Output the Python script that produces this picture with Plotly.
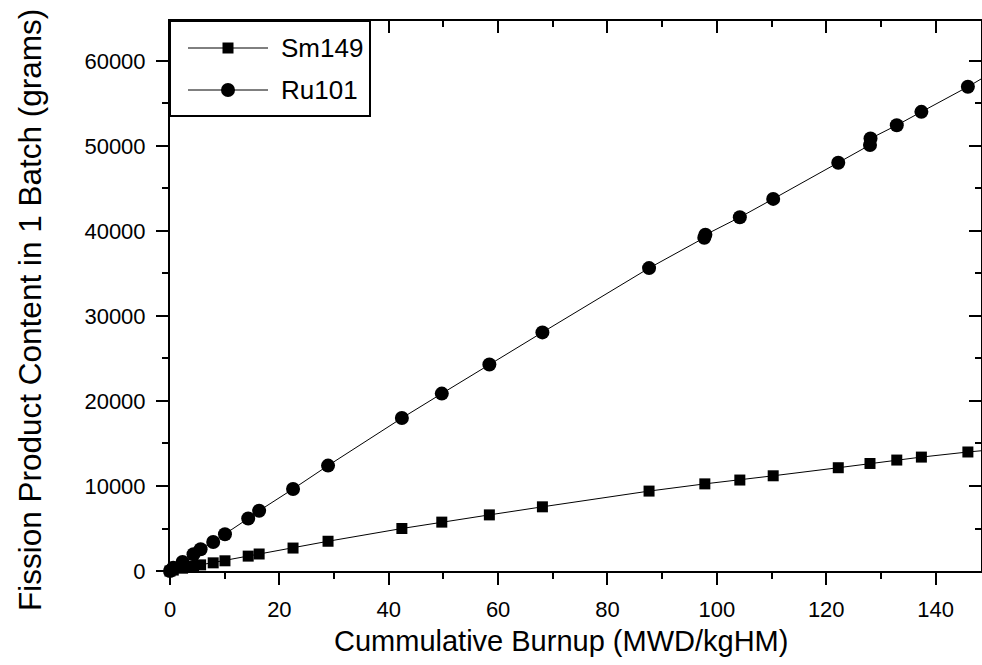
import plotly.graph_objects as go

# Cumulative burnup steps (MWD/kgHM) and fission product masses in one batch (g)
burnup_ru = [0, 0.6, 2.3, 4.3, 5.6, 7.9, 10.05, 14.3, 16.3, 22.5, 28.9, 42.4, 49.7,
             58.4, 68.1, 87.6, 97.7, 97.9, 104.2, 110.3, 122.2, 128.0, 128.1, 132.9,
             137.4, 145.9, 151.0]
ru101 = [0, 390, 1060, 1970, 2560, 3420, 4330, 6180, 7090, 9650, 12400, 17990, 20870,
         24290, 28070, 35630, 39200, 39550, 41610, 43770, 48030, 50120, 50880, 52440,
         54010, 56960, 58900]

burnup_sm = [0, 0.6, 2.3, 4.3, 5.6, 7.9, 10.05, 14.3, 16.3, 22.5, 28.9, 42.4, 49.7,
             58.4, 68.1, 87.6, 97.8, 104.2, 110.3, 122.2, 128.0, 132.9, 137.4, 145.9,
             151.0]
sm149 = [0, 110, 330, 570, 720, 960, 1200, 1750, 2000, 2700, 3500, 5000, 5750,
         6600, 7550, 9400, 10250, 10700, 11200, 12150, 12650, 13050, 13400, 14000,
         14300]

series_names = ["Sm149", "Ru101"]
x_ticks = [0, 20, 40, 60, 80, 100, 120, 140]
y_ticks = [0, 10000, 20000, 30000, 40000, 50000, 60000]
x_range = [0, 148.3]
y_range = [0, 64700]

FONT = "Liberation Sans, Arial, sans-serif"
W, H = 982, 665
L, R, T, B = 170, 1, 21, 94
PW, PH = W - L - R, H - T - B


def px_x(p):
    """Horizontal pixel position -> paper coordinate."""
    return (p - L) / PW


def px_y(p):
    """Vertical pixel position (from top) -> paper coordinate."""
    return (H - B - p) / PH


fig = go.Figure()
fig.add_trace(go.Scatter(
    x=burnup_sm, y=sm149, name=series_names[0], mode="lines+markers",
    line=dict(color="black", width=1),
    marker=dict(symbol="square", size=11, color="black"),
    cliponaxis=False, showlegend=False,
))
fig.add_trace(go.Scatter(
    x=burnup_ru, y=ru101, name=series_names[1], mode="lines+markers",
    line=dict(color="black", width=1),
    marker=dict(symbol="circle", size=14, color="black"),
    cliponaxis=False, showlegend=False,
))
# empty trace so the mirrored top/right axes get drawn
fig.add_trace(go.Scatter(x=[None], y=[None], xaxis="x2", yaxis="y2",
                         showlegend=False, hoverinfo="skip"))

tick_font = dict(family=FONT, size=22, color="black")
minor_out = dict(ticks="outside", ticklen=6, tickwidth=2, tickcolor="black", showgrid=False)
minor_in = dict(ticks="inside", ticklen=6, tickwidth=2, tickcolor="black", showgrid=False)

# Legend box drawn in the upper-left corner of the frame
shapes = [dict(type="rect", xref="paper", yref="paper",
               x0=px_x(170), x1=px_x(370), y0=px_y(116), y1=px_y(21),
               line=dict(color="black", width=2), fillcolor="white", layer="above")]
annotations = []
rows_y = [48, 90]
for name, row, sym in zip(series_names, rows_y, ["rect", "circle"]):
    shapes.append(dict(type="line", xref="paper", yref="paper",
                       x0=px_x(188), x1=px_x(268), y0=px_y(row), y1=px_y(row),
                       line=dict(color="black", width=1), layer="above"))
    half = 5.5 if sym == "rect" else 7
    shapes.append(dict(type=sym, xref="paper", yref="paper",
                       xsizemode="pixel", ysizemode="pixel",
                       xanchor=px_x(228), yanchor=px_y(row),
                       x0=-half, x1=half, y0=-half, y1=half,
                       line=dict(color="black", width=0), fillcolor="black",
                       layer="above"))
    annotations.append(dict(text=name, xref="paper", yref="paper",
                            x=px_x(279), y=px_y(row), xanchor="left", yanchor="middle",
                            showarrow=False,
                            font=dict(family=FONT, size=26, color="black")))

# Axis titles
annotations.append(dict(text="Cummulative Burnup (MWD/kgHM)", xref="paper", yref="paper",
                        x=px_x(561), y=px_y(641), xanchor="center", yanchor="middle",
                        showarrow=False, font=dict(family=FONT, size=29, color="black")))
annotations.append(dict(text="Fission Product Content in 1 Batch (grams)",
                        xref="paper", yref="paper", textangle=-90,
                        x=px_x(30), y=px_y(310), xanchor="center", yanchor="middle",
                        showarrow=False, font=dict(family=FONT, size=31.5, color="black")))

fig.update_layout(
    width=W, height=H,
    margin=dict(l=L, r=R, t=T, b=B),
    paper_bgcolor="white", plot_bgcolor="white",
    showlegend=False,
    shapes=shapes, annotations=annotations,
    xaxis=dict(
        range=x_range, tickmode="array", tickvals=x_ticks,
        ticks="outside", ticklen=12, tickwidth=2, tickcolor="black",
        minor=dict(dtick=10, **minor_out),
        showline=True, linewidth=2, linecolor="black",
        showgrid=False, zeroline=False, tickfont=tick_font, ticklabelstandoff=6,
    ),
    yaxis=dict(
        range=y_range, tickmode="array", tickvals=y_ticks, tickformat="d",
        ticks="outside", ticklen=12, tickwidth=2, tickcolor="black",
        minor=dict(dtick=5000, **minor_out),
        showline=True, linewidth=2, linecolor="black",
        showgrid=False, zeroline=False, tickfont=tick_font, ticklabelstandoff=6,
    ),
    # Frame on the top and right with inward-pointing ticks
    xaxis2=dict(
        overlaying="x", side="top", range=x_range, tickmode="array", tickvals=x_ticks,
        ticks="inside", ticklen=12, tickwidth=2, tickcolor="black",
        minor=dict(dtick=10, **minor_in),
        showline=True, linewidth=2, linecolor="black",
        showgrid=False, zeroline=False, showticklabels=False,
    ),
    yaxis2=dict(
        overlaying="y", side="right", range=y_range, tickmode="array", tickvals=y_ticks,
        ticks="inside", ticklen=12, tickwidth=2, tickcolor="black",
        minor=dict(dtick=5000, **minor_in),
        showline=True, linewidth=2, linecolor="black",
        showgrid=False, zeroline=False, showticklabels=False,
    ),
)

fig.write_html("out.html")
